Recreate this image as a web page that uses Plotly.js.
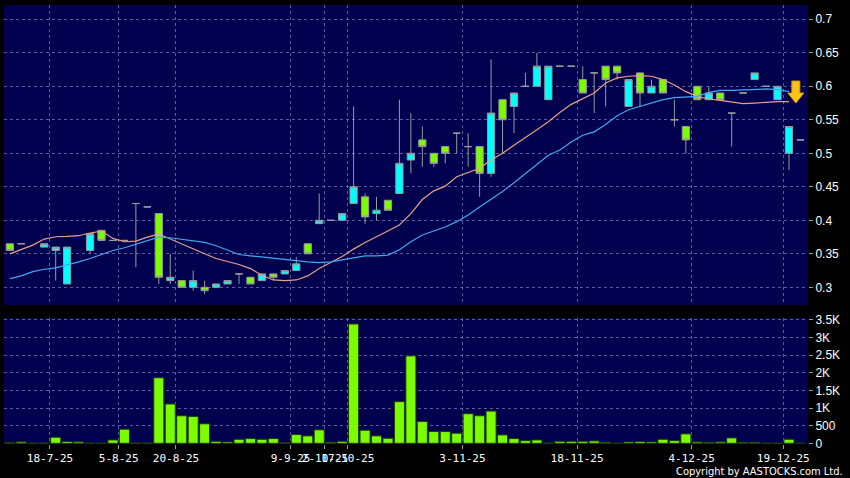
<!DOCTYPE html>
<html>
<head>
<meta charset="utf-8">
<script src="https://cdn.plot.ly/plotly-3.0.1.min.js"></script>
<style>
  html, body { margin: 0; padding: 0; background: #000; }
  #chart { width: 850px; height: 478px; }
</style>
</head>
<body>
<div id="chart"></div>
<script>
// ---- data (index = trading-day slot) ----
const openP  = [0.365,0.365,null,0.36,0.355,0.305,null,0.355,0.385,0.37,0.37,0.425,0.42,0.41,0.31,0.31,0.30,0.30,0.30,0.305,0.32,0.315,0.31,0.32,0.32,0.325,0.365,0.395,0.40,0.40,0.425,0.435,0.41,0.43,0.44,0.49,0.52,0.50,0.51,0.53,0.51,0.51,0.47,0.58,0.57,0.60,0.60,0.58,0.63,0.63,0.61,0.62,0.63,0.63,0.57,0.62,0.59,0.61,0.55,0.54,0.60,0.58,0.59,0.56,0.59,0.61,0.60,0.58,0.50,0.52];
const highP  = [0.365,0.365,null,0.365,0.36,0.36,null,0.38,0.385,0.37,0.37,0.425,0.42,0.41,0.35,0.31,0.325,0.31,0.305,0.31,0.32,0.315,0.32,0.32,0.325,0.345,0.365,0.44,0.40,0.41,0.57,0.44,0.435,0.43,0.58,0.56,0.54,0.50,0.51,0.53,0.53,0.51,0.64,0.58,0.59,0.62,0.65,0.63,0.63,0.63,0.63,0.62,0.63,0.63,0.61,0.62,0.61,0.61,0.58,0.54,0.60,0.60,0.59,0.56,0.59,0.62,0.60,0.60,0.54,0.52];
const lowP   = [0.355,0.365,null,0.36,0.31,0.305,null,0.35,0.37,0.37,0.37,0.33,0.42,0.305,0.305,0.30,0.295,0.29,0.30,0.305,0.305,0.305,0.31,0.31,0.32,0.325,0.35,0.395,0.40,0.40,0.425,0.395,0.40,0.415,0.44,0.47,0.48,0.48,0.485,0.50,0.48,0.435,0.465,0.50,0.53,0.60,0.60,0.58,0.63,0.63,0.59,0.56,0.57,0.61,0.57,0.57,0.59,0.59,0.54,0.50,0.58,0.58,0.58,0.51,0.59,0.61,0.60,0.58,0.475,0.52];
const closeP = [0.355,0.365,null,0.365,0.36,0.36,null,0.38,0.37,0.37,0.37,0.425,0.42,0.315,0.315,0.30,0.31,0.295,0.305,0.31,0.32,0.305,0.32,0.315,0.325,0.335,0.35,0.40,0.40,0.41,0.45,0.405,0.415,0.415,0.485,0.50,0.51,0.485,0.50,0.53,0.51,0.47,0.56,0.55,0.59,0.60,0.63,0.63,0.63,0.63,0.59,0.62,0.61,0.62,0.61,0.59,0.60,0.59,0.55,0.52,0.58,0.59,0.58,0.56,0.59,0.62,0.60,0.60,0.54,0.52];
const volume = [20,40,5,10,171,50,40,5,5,95,400,10,10,1857,1114,781,762,552,57,38,114,133,114,133,20,248,210,381,30,57,3381,371,210,143,1181,2476,619,333,333,286,838,781,914,238,133,76,95,10,57,57,57,67,29,5,38,48,38,114,76,267,38,29,38,152,29,29,5,5,114,0];
const maFast = [0.350,0.357,0.363,0.372,0.3755,0.376,0.377,0.381,0.384,0.373,0.368,0.369,0.375,0.3795,0.372,0.364,0.357,0.350,0.343,0.339,0.334,0.328,0.318,0.311,0.310,0.311,0.317,0.328,0.337,0.346,0.357,0.367,0.3755,0.3845,0.393,0.410,0.431,0.444,0.451,0.465,0.4716,0.4776,0.490,0.500,0.512,0.523,0.535,0.547,0.561,0.573,0.582,0.590,0.605,0.6125,0.615,0.616,0.615,0.610,0.602,0.592,0.585,0.581,0.579,0.576,0.574,0.575,0.5765,0.577,0.577];
const maSlow = [0.313,0.317,0.3235,0.327,0.329,0.333,0.338,0.343,0.349,0.355,0.359,0.364,0.370,0.375,0.374,0.372,0.370,0.367,0.362,0.355,0.349,0.347,0.345,0.343,0.341,0.339,0.338,0.337,0.338,0.341,0.344,0.347,0.347,0.348,0.356,0.368,0.378,0.384,0.390,0.398,0.408,0.420,0.431,0.443,0.456,0.470,0.483,0.497,0.505,0.517,0.527,0.532,0.543,0.556,0.565,0.570,0.576,0.580,0.583,0.584,0.585,0.591,0.594,0.594,0.595,0.596,0.596,0.595,0.592];
const tickIdx   = [3,9,14,24,27,29,39,49,59,67];
const tickLabel = ["18-7-25","5-8-25","20-8-25","9-9-25","2-10-25","17-10-25","3-11-25","18-11-25","4-12-25","19-12-25"];
const priceTicks = [0.3,0.35,0.4,0.45,0.5,0.55,0.6,0.65,0.7];
const volTicks   = [0,500,1000,1500,2000,2500,3000,3500];
const volLabels  = ["0","500","1K","1.5K","2K","2.5K","3K","3.5K"];
const signalIdx = 68, signalPrice = 0.575;

const idx = openP.map((_, i) => i);
const grid = 'rgba(120,120,190,0.75)';
const gdash = '3px,3px';
const axisFont = {family: 'Liberation Sans, Arial, sans-serif', size: 12, color: '#ffffff'};

const traces = [
  {
    type: 'candlestick', x: idx, open: openP, high: highP, low: lowP, close: closeP,
    xaxis: 'x', yaxis: 'y', whiskerwidth: 0,
    increasing: {fillcolor: '#00ffff', line: {color: '#9a9a9a', width: 1}},
    decreasing: {fillcolor: '#7cfc00', line: {color: '#9a9a9a', width: 1}},
    hoverinfo: 'skip'
  },
  {
    type: 'scatter', mode: 'lines', x: idx.slice(0, maFast.length), y: maFast,
    xaxis: 'x', yaxis: 'y', line: {color: '#e8a084', width: 1.2}, hoverinfo: 'skip'
  },
  {
    type: 'scatter', mode: 'lines', x: idx.slice(0, maSlow.length), y: maSlow,
    xaxis: 'x', yaxis: 'y', line: {color: '#42a8f0', width: 1.2}, hoverinfo: 'skip'
  },
  {
    type: 'bar', x: idx, y: volume, xaxis: 'x', yaxis: 'y2',
    marker: {color: '#7cfc00', line: {color: '#1c3a00', width: 1}},
    hoverinfo: 'skip'
  }
];

const layout = {
  width: 850, height: 478,
  margin: {l: 4, r: 42, t: 5, b: 34},
  paper_bgcolor: '#000000', plot_bgcolor: '#00004f',
  showlegend: false, boxgap: 0.1, bargap: 0.12,
  xaxis: {
    range: [-0.51, 69.66], anchor: 'y2',
    tickmode: 'array', tickvals: tickIdx.map(v => v + 0.5), ticktext: tickLabel,
    tickangle: 0, ticks: 'outside', ticklen: 4, tickcolor: '#9a9a9a',
    tickfont: {family: 'DejaVu Sans Mono, monospace', size: 11, color: '#ffffff'},
    showgrid: true, gridcolor: grid, griddash: gdash, gridwidth: 1,
    zeroline: false, showline: false, rangeslider: {visible: false}, fixedrange: true
  },
  yaxis: {
    domain: [0.3166, 1], side: 'right', anchor: 'x', range: [0.2736, 0.7213],
    tickmode: 'array', tickvals: priceTicks,
    ticks: 'outside', ticklen: 4, tickcolor: '#9a9a9a', tickfont: axisFont,
    showgrid: true, gridcolor: grid, griddash: gdash, zeroline: false, showline: false, fixedrange: true
  },
  yaxis2: {
    domain: [0, 0.287], side: 'right', anchor: 'x', range: [-20, 3551],
    tickmode: 'array', tickvals: volTicks, ticktext: volLabels,
    ticks: 'outside', ticklen: 4, tickcolor: '#9a9a9a', tickfont: axisFont,
    showgrid: true, gridcolor: grid, griddash: gdash, zeroline: false, showline: false, fixedrange: true
  },
  shapes: [{
    type: 'path', xref: 'x', yref: 'y', xsizemode: 'pixel', ysizemode: 'pixel',
    xanchor: signalIdx + 0.6, yanchor: signalPrice,
    path: 'M 0 0 L -8 10 L -4 10 L -4 22 L 4 22 L 4 10 L 8 10 Z',
    fillcolor: '#fcc514', line: {color: '#d99a00', width: 1}
  }],
  annotations: [{
    xref: 'paper', yref: 'paper', x: 1, y: 0, xanchor: 'right', yanchor: 'middle',
    xshift: 37, yshift: -27, showarrow: false,
    text: 'Copyright by AASTOCKS.com Ltd.',
    font: {family: 'Liberation Sans Narrow, DejaVu Sans Condensed, Liberation Sans, sans-serif', size: 11, color: '#ffffff'}
  }]
};

Plotly.newPlot('chart', traces, layout, {displayModeBar: false, staticPlot: true});
</script>
</body>
</html>
